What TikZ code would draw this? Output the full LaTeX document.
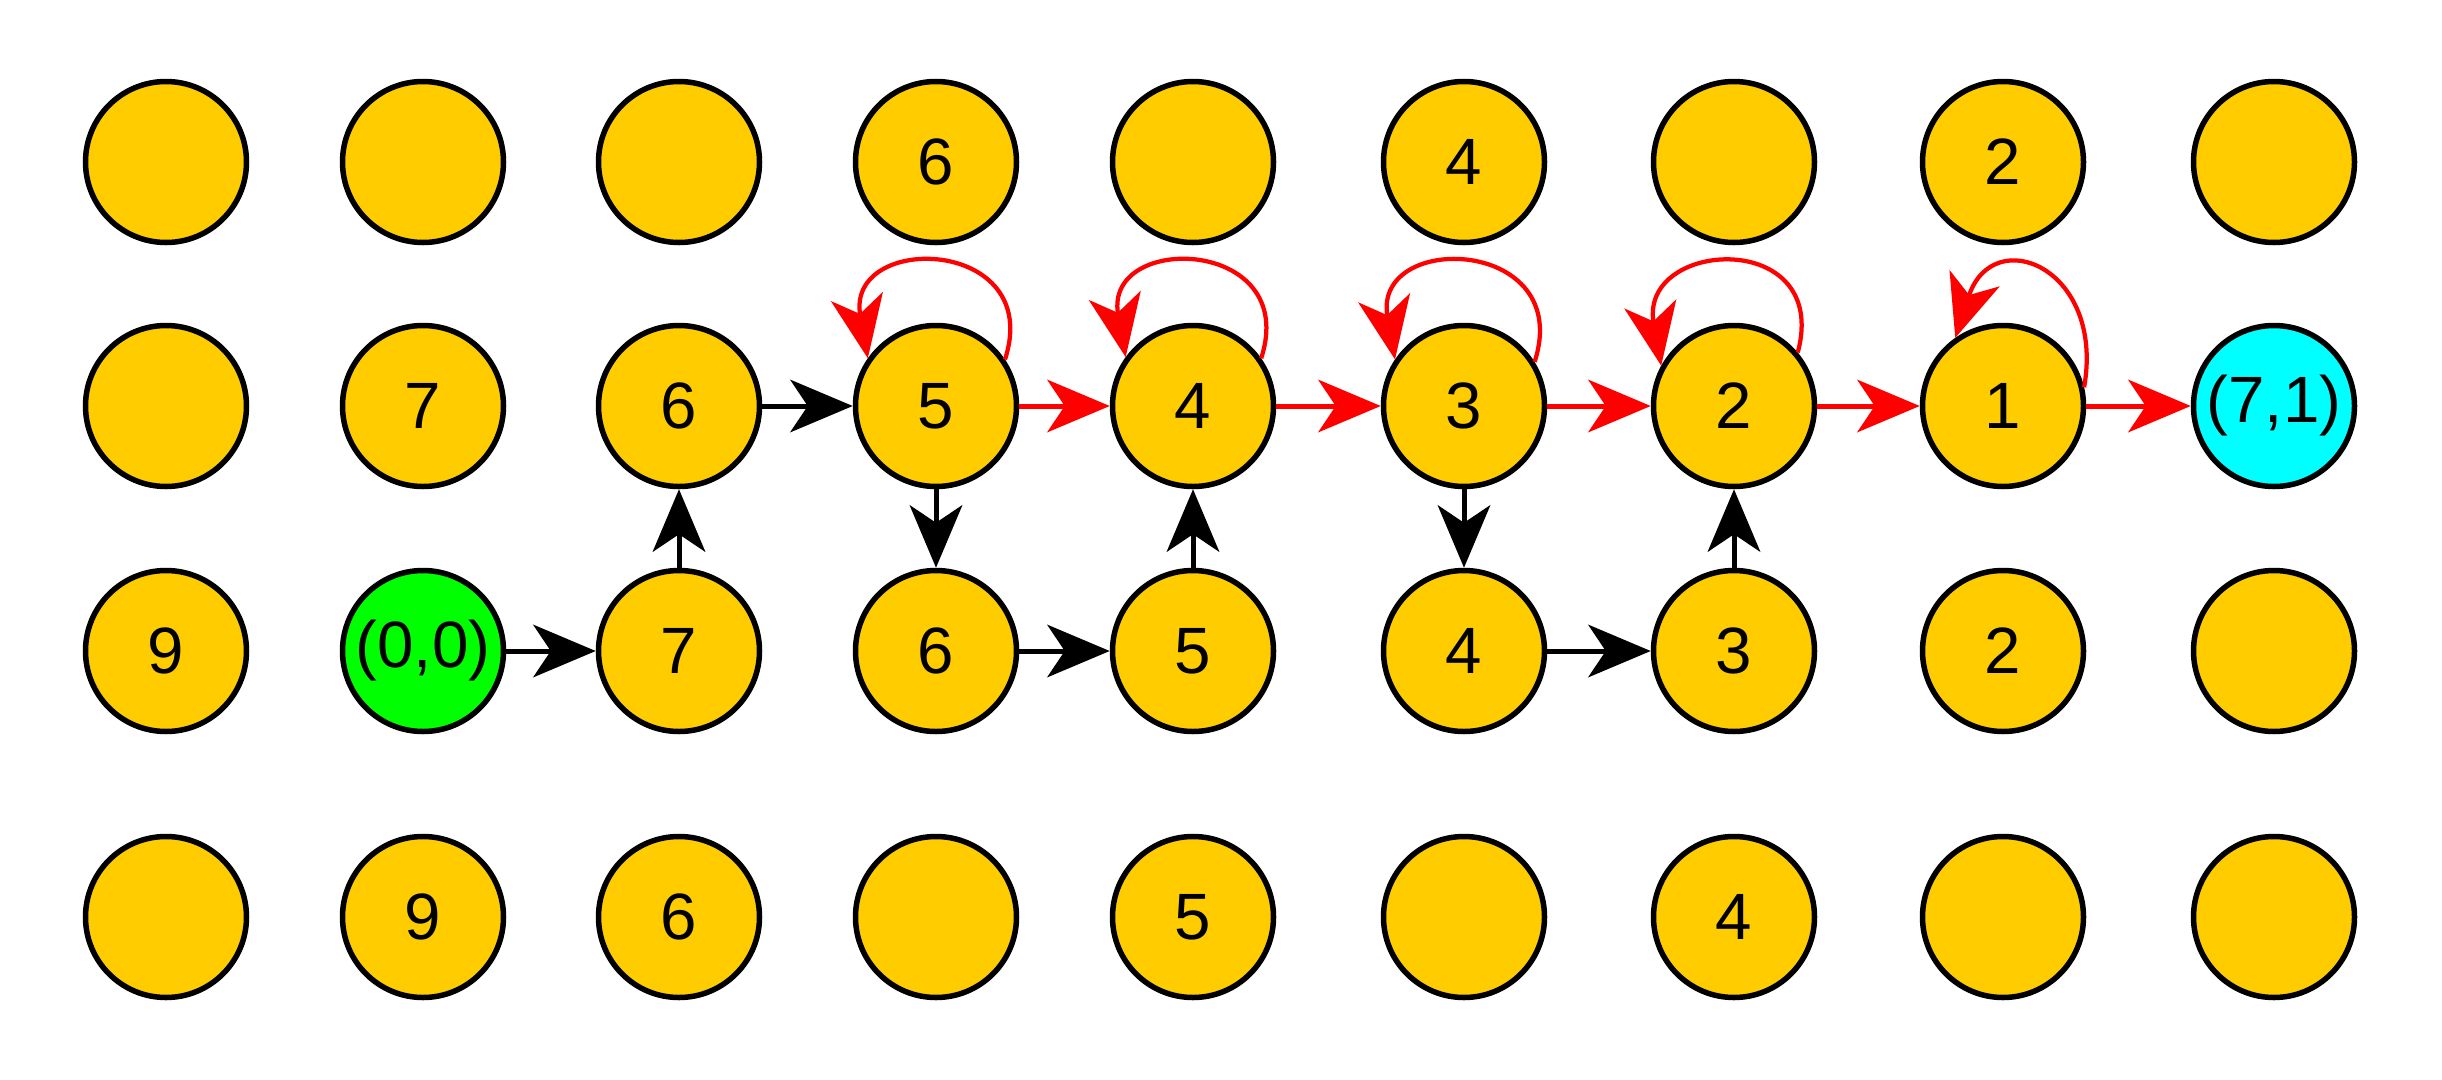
\documentclass[tikz,border=0pt]{standalone}
\usepackage{fontspec}
\setmainfont{Liberation Sans}
\usetikzlibrary{arrows.meta}
\definecolor{cellfill}{HTML}{FFCC00}
\definecolor{startfill}{HTML}{00FF00}
\definecolor{goalfill}{HTML}{00FFFF}
\definecolor{pathred}{HTML}{FF0000}
\begin{document}
\begin{tikzpicture}[x=0.4pt,y=-0.4pt,
  cell/.style={circle, draw=black, line width=2.2pt, fill=cellfill,
    minimum size=64.4pt, inner sep=0pt, font=\fontsize{26.2}{31}\selectfont},
  startcell/.style={cell, fill=startfill},
  goalcell/.style={cell, fill=goalfill},
  tip/.style={-{Stealth[length=25pt,width=21pt,inset=7pt]}},
  move/.style={tip, line width=2pt, draw=black},
  best/.style={tip, line width=2pt, draw=pathred},
  stay/.style={tip, line width=1.7pt, draw=pathred, looseness=2.4}
]
\useasboundingbox (0,0) rectangle (2442,1080);

% row 1
\node[cell] (n11) at (166,162) {};
\node[cell] (n12) at (423,162) {};
\node[cell] (n13) at (679,162) {};
\node[cell] (n14) at (936,162) {6};
\node[cell] (n15) at (1193,162) {};
\node[cell] (n16) at (1464,162) {4};
\node[cell] (n17) at (1734,162) {};
\node[cell] (n18) at (2003,162) {2};
\node[cell] (n19) at (2274,162) {};
% row 2
\node[cell] (n21) at (166,406) {};
\node[cell] (n22) at (423,406) {7};
\node[cell] (n23) at (679,406) {6};
\node[cell] (n24) at (936,406) {5};
\node[cell] (n25) at (1193,406) {4};
\node[cell] (n26) at (1464,406) {3};
\node[cell] (n27) at (1734,406) {2};
\node[cell] (n28) at (2003,406) {1};
\node[goalcell] (n29) at (2274,406) {(7,1)};
% row 3
\node[cell] (n31) at (166,651) {9};
\node[startcell] (n32) at (423,651) {(0,0)};
\node[cell] (n33) at (679,651) {7};
\node[cell] (n34) at (936,651) {6};
\node[cell] (n35) at (1193,651) {5};
\node[cell] (n36) at (1464,651) {4};
\node[cell] (n37) at (1734,651) {3};
\node[cell] (n38) at (2003,651) {2};
\node[cell] (n39) at (2274,651) {};
% row 4
\node[cell] (n41) at (166,917) {};
\node[cell] (n42) at (423,917) {9};
\node[cell] (n43) at (679,917) {6};
\node[cell] (n44) at (936,917) {};
\node[cell] (n45) at (1193,917) {5};
\node[cell] (n46) at (1464,917) {};
\node[cell] (n47) at (1734,917) {4};
\node[cell] (n48) at (2003,917) {};
\node[cell] (n49) at (2274,917) {};

% explored moves
\draw[move] (n32) -- (n33);
\draw[move] (n33) -- (n23);
\draw[move] (n23) -- (n24);
\draw[move] (n24) -- (n34);
\draw[move] (n34) -- (n35);
\draw[move] (n35) -- (n25);
\draw[move] (n26) -- (n36);
\draw[move] (n36) -- (n37);
\draw[move] (n37) -- (n27);

% final path
\draw[best] (n24) -- (n25);
\draw[best] (n25) -- (n26);
\draw[best] (n26) -- (n27);
\draw[best] (n27) -- (n28);
\draw[best] (n28) -- (n29);

% self loops
\draw[stay] (n24.34) to[out=72,in=100] (n24.145);
\draw[stay] (n25.35) to[out=72,in=100] (n25.144);
\draw[stay] (n26.32) to[out=72,in=100] (n26.146);
\draw[stay] (n27.40) to[out=75,in=100] (n27.151);
\draw[stay] (n28.13) to[out=80,in=72,looseness=2.25] (n28.125);
\end{tikzpicture}
\end{document}
